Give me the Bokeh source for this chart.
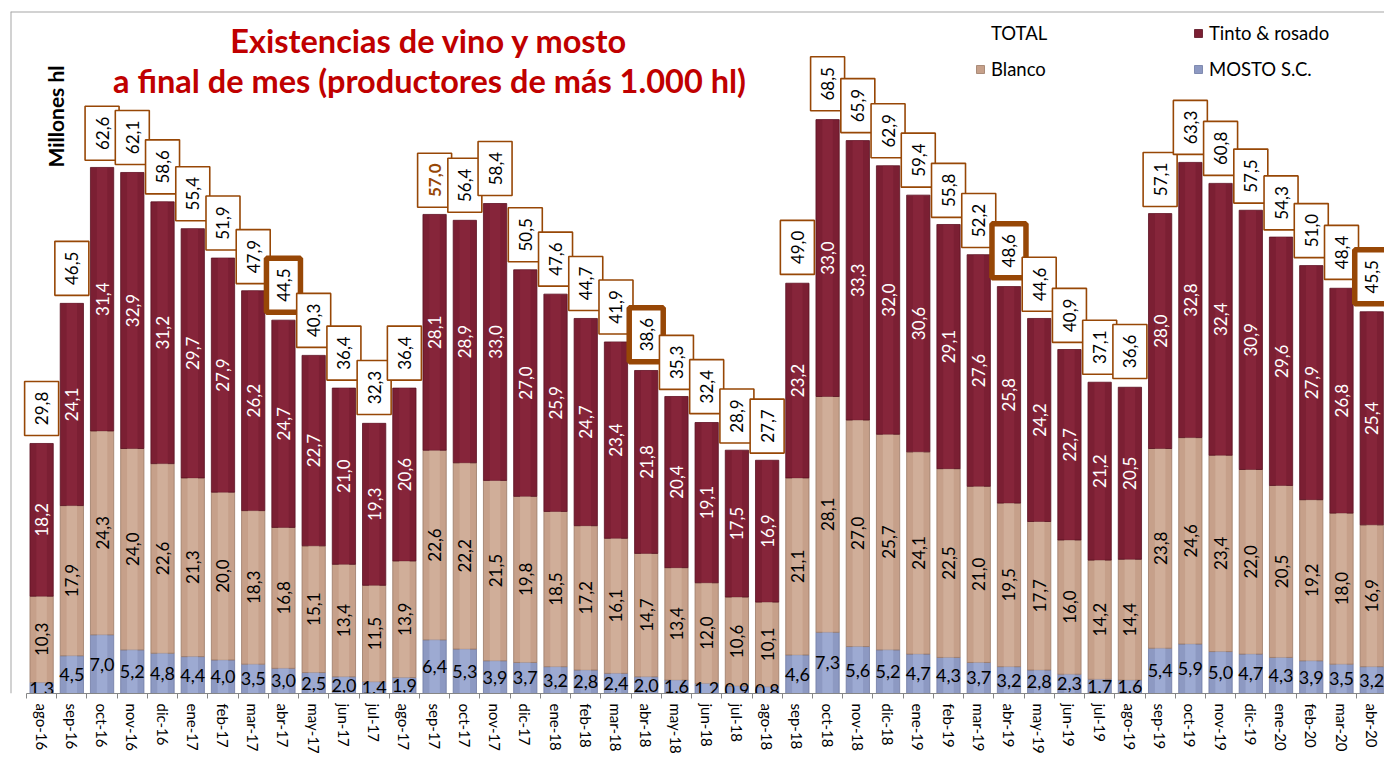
import numpy as np
from bokeh.plotting import figure
from bokeh.models import (ColumnDataSource, Range1d, FixedTicker, Label,
                          Legend, LegendItem, Span)
from bokeh.core.properties import value
from bokeh.transform import dodge
from bokeh.embed import file_html
from bokeh.resources import INLINE

# ---------------- data ----------------
months = ["ago-16", "sep-16", "oct-16", "nov-16", "dic-16", "ene-17", "feb-17",
          "mar-17", "abr-17", "may-17", "jun-17", "jul-17", "ago-17", "sep-17",
          "oct-17", "nov-17", "dic-17", "ene-18", "feb-18", "mar-18", "abr-18",
          "may-18", "jun-18", "jul-18", "ago-18", "sep-18", "oct-18", "nov-18",
          "dic-18", "ene-19", "feb-19", "mar-19", "abr-19", "may-19", "jun-19",
          "jul-19", "ago-19", "sep-19", "oct-19", "nov-19", "dic-19", "ene-20",
          "feb-20", "mar-20", "abr-20"]
total = [29.8, 46.5, 62.6, 62.1, 58.6, 55.4, 51.9, 47.9, 44.5, 40.3, 36.4, 32.3,
         36.4, 57.0, 56.4, 58.4, 50.5, 47.6, 44.7, 41.9, 38.6, 35.3, 32.4, 28.9,
         27.7, 49.0, 68.5, 65.9, 62.9, 59.4, 55.8, 52.2, 48.6, 44.6, 40.9, 37.1,
         36.6, 57.1, 63.3, 60.8, 57.5, 54.3, 51.0, 48.4, 45.5]
tinto = [18.2, 24.1, 31.4, 32.9, 31.2, 29.7, 27.9, 26.2, 24.7, 22.7, 21.0, 19.3,
         20.6, 28.1, 28.9, 33.0, 27.0, 25.9, 24.7, 23.4, 21.8, 20.4, 19.1, 17.5,
         16.9, 23.2, 33.0, 33.3, 32.0, 30.6, 29.1, 27.6, 25.8, 24.2, 22.7, 21.2,
         20.5, 28.0, 32.8, 32.4, 30.9, 29.6, 27.9, 26.8, 25.4]
blanco = [10.3, 17.9, 24.3, 24.0, 22.6, 21.3, 20.0, 18.3, 16.8, 15.1, 13.4, 11.5,
          13.9, 22.6, 22.2, 21.5, 19.8, 18.5, 17.2, 16.1, 14.7, 13.4, 12.0, 10.6,
          10.1, 21.1, 28.1, 27.0, 25.7, 24.1, 22.5, 21.0, 19.5, 17.7, 16.0, 14.2,
          14.4, 23.8, 24.6, 23.4, 22.0, 20.5, 19.2, 18.0, 16.9]
mosto = [1.3, 4.5, 7.0, 5.2, 4.8, 4.4, 4.0, 3.5, 3.0, 2.5, 2.0, 1.4,
         1.9, 6.4, 5.3, 3.9, 3.7, 3.2, 2.8, 2.4, 2.0, 1.6, 1.2, 0.9,
         0.8, 4.6, 7.3, 5.6, 5.2, 4.7, 4.3, 3.7, 3.2, 2.8, 2.3, 1.7,
         1.6, 5.4, 5.9, 5.0, 4.7, 4.3, 3.9, 3.5, 3.2]
thick_box_months = ["abr-17", "abr-18", "abr-19", "abr-20"]
bold_total_months = ["sep-17"]

# ---------------- styling / geometry ----------------
W, H = 1384, 758
FL, FT, FB = 10, 11, 693       # frame left / top / bottom in canvas px
DATA_L = 26                    # canvas px where the first category slot starts
PX_CAT = 30.23                 # px per category
PX_UNIT = 8.39                 # px per million hl
X0 = -0.5 - (DATA_L - FL) / PX_CAT
X1 = -0.5 + (W - DATA_L) / PX_CAT
Y1 = (FB - FT) / PX_UNIT

C_TINTO = "#7B1F33"
C_BLANCO = "#C6A08A"
C_MOSTO = "#8D99C2"
C_BOX = "#974706"
C_BORDER = "#A6A6A6"
FONT = "Lato"


def fmt(v):
    return f"{v:.1f}".replace(".", ",")


def ix(px):   # canvas px -> data x
    return -0.5 + (px - DATA_L) / PX_CAT


def iy(py):   # canvas px -> data y
    return (FB - py) / PX_UNIT


n = len(months)
xs = list(range(n))
m = np.array(mosto)
b = np.array(blanco)
t = np.array(tinto)
src = ColumnDataSource(dict(
    x=xs, month=months, total=total, tinto=tinto, blanco=blanco, mosto=mosto,
    m_top=m, b_top=m + b, t_top=m + b + t,
    m_mid=m / 2, b_mid=m + b / 2, t_mid=m + b + t / 2,
    m_lbl=[fmt(v) for v in mosto], b_lbl=[fmt(v) for v in blanco],
    t_lbl=[fmt(v) for v in tinto], tot_lbl=[fmt(v) for v in total],
    box_lw=[5.5 if mo in thick_box_months else 1.6 for mo in months],
    tot_color=[C_BOX if mo in bold_total_months else "black" for mo in months],
    tot_style=["bold" if mo in bold_total_months else "normal" for mo in months],
))

p = figure(width=W, height=H, x_range=Range1d(X0, X1), y_range=Range1d(0, Y1),
           output_backend="svg", toolbar_location=None, y_axis_location=None,
           min_border_left=FL, min_border_right=0, min_border_top=FT,
           min_border_bottom=H - FB)
p.outline_line_color = None
p.xgrid.visible = False
p.ygrid.visible = False
p.background_fill_color = "white"
p.border_fill_color = "white"

# chart-area border (top and left)
p.add_layout(Span(location=Y1, dimension="width", line_color=C_BORDER, line_width=2))
p.add_layout(Span(location=X0, dimension="height", line_color=C_BORDER, line_width=2))

BW = 0.77
r_m = p.vbar(x="x", bottom=0, top="m_top", width=BW, source=src,
             fill_color=C_MOSTO, line_color="#6E7AA3", line_width=0.8)
r_b = p.vbar(x="x", bottom="m_top", top="b_top", width=BW, source=src,
             fill_color=C_BLANCO, line_color="#9C7A66", line_width=0.8)
r_t = p.vbar(x="x", bottom="b_top", top="t_top", width=BW, source=src,
             fill_color=C_TINTO, line_color="#5A1222", line_width=0.8)
# lighter inner panel to suggest the bevelled bars
p.vbar(x="x", bottom="m_top", top="b_top", width=BW * 0.45, source=src,
       fill_color="#D9B9A5", line_color=None, fill_alpha=0.55)
p.vbar(x="x", bottom="b_top", top="t_top", width=BW * 0.45, source=src,
       fill_color="#8E2A40", line_color=None, fill_alpha=0.6)
p.vbar(x="x", bottom=0, top="m_top", width=BW * 0.45, source=src,
       fill_color="#A9B5DC", line_color=None, fill_alpha=0.6)

r_tot = p.scatter(x="x", y="total", source=src, size=1, alpha=0)

# segment labels
p.text(x="x", y="t_mid", text="t_lbl", source=src, angle=np.pi / 2,
       text_align="center", text_baseline="middle", text_color="white",
       text_font=value(FONT), text_font_size="17px")
p.text(x="x", y="b_mid", text="b_lbl", source=src, angle=np.pi / 2,
       text_align="center", text_baseline="middle", text_color="black",
       text_font=value(FONT), text_font_size="17px")
p.text(x="x", y="m_mid", text="m_lbl", source=src,
       text_align="center", text_baseline="middle", text_color="black",
       text_font=value(FONT), text_font_size="18px")

# total boxes
BOX_OFF = 35 / PX_UNIT
p.rect(x="x", y=dodge("total", BOX_OFF), width=34, height=54,
       width_units="screen", height_units="screen", source=src,
       fill_color="white", line_color=C_BOX, line_width="box_lw")
p.text(x="x", y=dodge("total", BOX_OFF), text="tot_lbl", source=src,
       angle=np.pi / 2, text_align="center", text_baseline="middle",
       text_color="tot_color", text_font_style="tot_style",
       text_font=value(FONT), text_font_size="17px")

# x axis
ax = p.xaxis[0]
ax.bounds = (-0.5, X1)
ax.ticker = FixedTicker(ticks=xs, minor_ticks=[i - 0.5 for i in range(n + 1)])
ax.major_label_overrides = {i: mo for i, mo in enumerate(months)}
ax.major_label_orientation = "vertical"
ax.major_label_text_font = FONT
ax.major_label_text_font_size = "15px"
ax.major_label_text_color = "black"
ax.major_label_standoff = 5
ax.major_tick_out = 0
ax.major_tick_in = 0
ax.minor_tick_out = 5
ax.minor_tick_in = 0
ax.minor_tick_line_color = "#868686"
ax.axis_line_color = "#868686"

# titles
for txt, py in [("Existencias de vino y mosto", 40),
                ("a final de mes (productores de más 1.000 hl)", 80)]:
    p.add_layout(Label(x=ix(429), y=iy(py), text=txt, text_align="center",
                       text_baseline="middle", text_font=FONT,
                       text_font_style="bold", text_font_size="32.5px",
                       text_color="#C00000"))
p.add_layout(Label(x=ix(55), y=iy(116), text="Millones hl", angle=np.pi / 2,
                   text_align="center", text_baseline="middle", text_font=FONT,
                   text_font_style="bold", text_font_size="21px",
                   text_color="black"))


# legends (two columns)
def mk_legend(items, px):
    lg = Legend(items=items, location=(px - FL, FB - 80),
                orientation="vertical", padding=0, margin=0, spacing=14,
                glyph_width=10, glyph_height=10, label_height=22,
                label_standoff=6, border_line_color=None,
                background_fill_alpha=0, label_text_font=FONT,
                label_text_font_size="18.5px", label_text_color="black")
    p.add_layout(lg, "center")


mk_legend([LegendItem(label="TOTAL", renderers=[r_tot]),
           LegendItem(label="Blanco", renderers=[r_b])], 975)
mk_legend([LegendItem(label="Tinto & rosado", renderers=[r_t]),
           LegendItem(label="MOSTO S.C.", renderers=[r_m])], 1193)

open("out.html", "w").write(file_html(p, INLINE))
